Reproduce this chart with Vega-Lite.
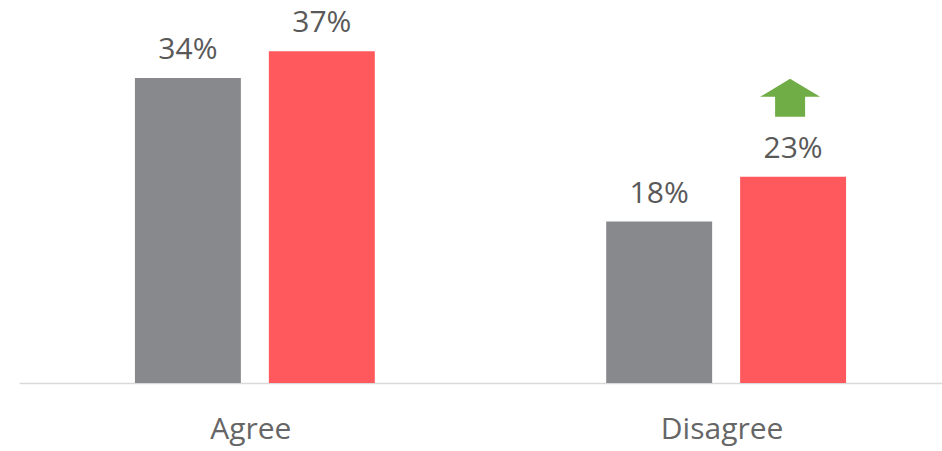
{
  "$schema": "https://vega.github.io/schema/vega-lite/v6.json",
  "width": 943,
  "height": 383,
  "autosize": "none",
  "padding": {"left": 19, "top": 0, "right": 0, "bottom": 68},
  "background": "white",
  "config": {"view": {"stroke": null}, "font": "Open Sans"},
  "data": {"values": [
    {"category": "Agree", "series": "Previous", "value": 0.34},
    {"category": "Agree", "series": "Current", "value": 0.37},
    {"category": "Disagree", "series": "Previous", "value": 0.18},
    {"category": "Disagree", "series": "Current", "value": 0.23}
  ]},
  "encoding": {
    "x": {"field": "category", "type": "nominal", "sort": ["Agree", "Disagree"],
      "scale": {"paddingInner": 0.491, "paddingOuter": 0.246},
      "axis": {"title": null, "labelAngle": 0, "ticks": false, "tickSize": 0, "labelPadding": 55, "labelBaseline": "alphabetic", "labelOffset": -4,
        "labelFontSize": 30, "labelColor": "#666666", "labelFont": "Open Sans", "domainColor": "#d9d9d9", "domainWidth": 1.5, "grid": false}},
    "xOffset": {"field": "series", "type": "nominal", "sort": ["Previous", "Current"],
      "scale": {"paddingInner": 0.209, "paddingOuter": 0}},
    "y": {"field": "value", "type": "quantitative", "scale": {"domain": [0, 0.427], "nice": false, "zero": true}, "axis": null}
  },
  "layer": [
    {
      "mark": {"type": "bar"},
      "encoding": {
        "color": {"field": "series", "type": "nominal", "scale": {"domain": ["Previous", "Current"], "range": ["#87898c", "#ff585d"]}, "legend": null}
      }
    },
    {
      "mark": {"type": "text", "dy": -19, "baseline": "alphabetic", "fontSize": 30, "color": "#595959", "font": "Open Sans"},
      "encoding": {"text": {"field": "value", "type": "quantitative", "format": ".0%"}}
    },
    {
      "data": {"values": [{"category": "Disagree", "series": "Current", "value": 0.318}]},
      "mark": {"type": "point", "filled": true, "opacity": 1, "color": "#70ad47", "strokeWidth": 0, "size": 3600,
        "shape": "M-0.1,-0.633L0.9,-0.033L0.4,-0.033L0.4,0.633L-0.6,0.633L-0.6,-0.033L-1.1,-0.033Z"},
      "encoding": {}
    }
  ]
}
